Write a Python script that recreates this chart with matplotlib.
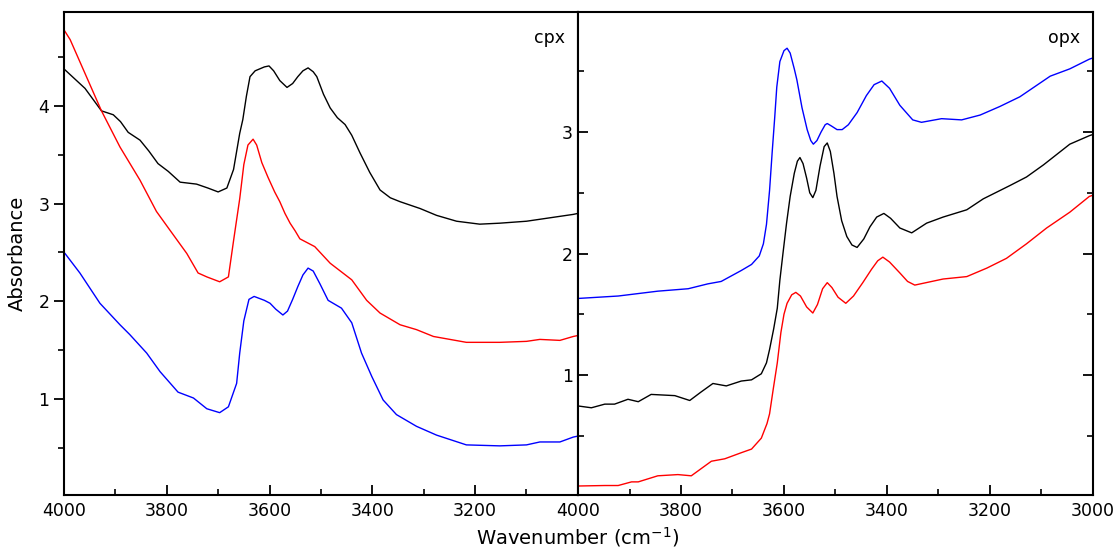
import matplotlib
matplotlib.use('Agg')
import matplotlib.pyplot as plt
from matplotlib.ticker import MultipleLocator

# cpx spectra (left panel)
cpx_black_w = [4000, 3998, 3959, 3927, 3904, 3890, 3875, 3852, 3835, 3817, 3797, 3774, 3742,
               3720, 3700, 3683, 3670, 3658, 3652, 3645, 3638, 3628, 3619, 3610, 3601, 3592,
               3580, 3566, 3555, 3545, 3535, 3525, 3515, 3508, 3495, 3482, 3468, 3453, 3440,
               3424, 3405, 3385, 3365, 3346, 3307, 3275, 3236, 3191, 3152, 3100, 3061, 3009, 3000]
cpx_black_a = [4.38, 4.37, 4.18, 3.95, 3.91, 3.84, 3.73, 3.65, 3.54, 3.41, 3.33, 3.22, 3.20,
               3.16, 3.12, 3.16, 3.35, 3.72, 3.86, 4.10, 4.30, 4.36, 4.38, 4.40, 4.41, 4.36,
               4.26, 4.19, 4.23, 4.30, 4.36, 4.39, 4.35, 4.30, 4.12, 3.98, 3.88, 3.81, 3.70,
               3.52, 3.32, 3.14, 3.06, 3.02, 2.95, 2.88, 2.82, 2.79, 2.80, 2.82, 2.85, 2.89, 2.90]
cpx_red_w = [4000, 3988, 3927, 3891, 3852, 3820, 3794, 3761, 3739, 3722, 3697, 3680, 3670,
             3665, 3658, 3650, 3642, 3632, 3625, 3615, 3603, 3590, 3580, 3570, 3560, 3550,
             3541, 3512, 3482, 3440, 3411, 3385, 3346, 3314, 3281, 3217, 3152, 3100, 3074,
             3035, 3009, 3000]
cpx_red_a = [4.78, 4.68, 3.95, 3.58, 3.24, 2.92, 2.73, 2.49, 2.29, 2.25, 2.20, 2.25, 2.62,
             2.80, 3.05, 3.40, 3.60, 3.66, 3.60, 3.42, 3.27, 3.12, 3.02, 2.90, 2.80, 2.72,
             2.64, 2.56, 2.39, 2.22, 2.01, 1.88, 1.76, 1.71, 1.64, 1.58, 1.58, 1.59, 1.61,
             1.60, 1.64, 1.65]
cpx_blue_w = [4000, 3998, 3969, 3930, 3891, 3872, 3839, 3813, 3778, 3748, 3722, 3697, 3680,
              3664, 3658, 3650, 3640, 3630, 3620, 3610, 3599, 3588, 3574, 3565, 3555, 3545,
              3535, 3525, 3515, 3502, 3486, 3460, 3440, 3421, 3401, 3379, 3353, 3314, 3275,
              3217, 3152, 3100, 3074, 3035, 3009, 3000]
cpx_blue_a = [2.50, 2.49, 2.29, 1.98, 1.76, 1.66, 1.47, 1.28, 1.07, 1.01, 0.90, 0.86, 0.92,
              1.16, 1.47, 1.80, 2.02, 2.05, 2.03, 2.01, 1.98, 1.92, 1.86, 1.90, 2.02, 2.15,
              2.27, 2.34, 2.31, 2.18, 2.01, 1.93, 1.78, 1.47, 1.23, 0.99, 0.84, 0.72, 0.63,
              0.53, 0.52, 0.53, 0.56, 0.56, 0.61, 0.62]

# opx spectra (right panel)
opx_blue_w = [4000, 3922, 3845, 3786, 3748, 3722, 3683, 3663, 3648, 3640, 3634, 3628, 3623,
              3618, 3614, 3608, 3600, 3594, 3588, 3580, 3575, 3565, 3555, 3548, 3543, 3536,
              3528, 3520, 3516, 3508, 3497, 3487, 3475, 3458, 3440, 3425, 3410, 3395, 3375,
              3350, 3333, 3294, 3255, 3219, 3181, 3142, 3083, 3045, 3007, 3000]
opx_blue_a = [1.63, 1.65, 1.69, 1.71, 1.75, 1.77, 1.86, 1.91, 1.98, 2.08, 2.24, 2.52, 2.83,
              3.12, 3.37, 3.58, 3.67, 3.69, 3.65, 3.52, 3.43, 3.20, 3.02, 2.93, 2.90, 2.93,
              3.00, 3.06, 3.07, 3.05, 3.02, 3.02, 3.06, 3.16, 3.30, 3.39, 3.42, 3.36, 3.22,
              3.10, 3.08, 3.11, 3.10, 3.14, 3.21, 3.29, 3.46, 3.52, 3.60, 3.61]
opx_black_w = [4000, 3974, 3948, 3929, 3903, 3883, 3858, 3812, 3783, 3761, 3738, 3712, 3683,
               3663, 3644, 3634, 3628, 3620, 3613, 3608, 3602, 3595, 3588, 3580, 3574, 3569,
               3563, 3556, 3550, 3544, 3538, 3530, 3522, 3516, 3510, 3503, 3497, 3488, 3478,
               3468, 3458, 3445, 3433, 3420, 3406, 3393, 3375, 3352, 3323, 3291, 3245, 3213,
               3161, 3129, 3096, 3045, 3007, 3000]
opx_black_a = [0.745, 0.73, 0.76, 0.76, 0.80, 0.78, 0.84, 0.83, 0.79, 0.86, 0.93, 0.91, 0.95,
               0.96, 1.01, 1.10, 1.21, 1.38, 1.55, 1.78, 2.00, 2.25, 2.47, 2.66, 2.76, 2.79,
               2.74, 2.62, 2.50, 2.46, 2.52, 2.72, 2.88, 2.91, 2.84, 2.66, 2.47, 2.27, 2.14,
               2.07, 2.05, 2.12, 2.22, 2.30, 2.33, 2.29, 2.21, 2.17, 2.25, 2.30, 2.36, 2.45,
               2.56, 2.63, 2.73, 2.90, 2.97, 2.98]
opx_red_w = [4000, 3948, 3922, 3896, 3883, 3845, 3806, 3780, 3741, 3715, 3683, 3663, 3644,
             3633, 3628, 3621, 3613, 3606, 3600, 3594, 3585, 3577, 3568, 3556, 3544, 3535,
             3525, 3516, 3507, 3495, 3480, 3465, 3447, 3430, 3418, 3408, 3395, 3375, 3360,
             3346, 3291, 3245, 3206, 3168, 3129, 3090, 3045, 3007, 3000]
opx_red_a = [0.086, 0.09, 0.09, 0.12, 0.12, 0.17, 0.18, 0.17, 0.29, 0.31, 0.36, 0.39, 0.48,
             0.60, 0.68, 0.88, 1.10, 1.35, 1.50, 1.59, 1.66, 1.68, 1.65, 1.56, 1.51, 1.58,
             1.71, 1.76, 1.72, 1.64, 1.59, 1.65, 1.76, 1.87, 1.94, 1.97, 1.93, 1.84, 1.77,
             1.74, 1.79, 1.81, 1.88, 1.96, 2.08, 2.21, 2.34, 2.47, 2.48]

plt.rcParams['font.family'] = 'DejaVu Sans'

fig = plt.figure(figsize=(11.18, 5.59), dpi=100)
ax1 = fig.add_axes([0.0572, 0.1145, 0.4597, 0.864])
ax2 = fig.add_axes([0.5170, 0.1145, 0.4606, 0.864])

lw = 1.0
ax1.plot(cpx_black_w, cpx_black_a, color='k', lw=lw)
ax1.plot(cpx_red_w, cpx_red_a, color='r', lw=lw)
ax1.plot(cpx_blue_w, cpx_blue_a, color='b', lw=lw)

ax2.plot(opx_blue_w, opx_blue_a, color='b', lw=lw)
ax2.plot(opx_black_w, opx_black_a, color='k', lw=lw)
ax2.plot(opx_red_w, opx_red_a, color='r', lw=lw)

ax1.set_xlim(4000, 3000)
ax1.set_ylim(0.017, 4.962)
ax2.set_xlim(4000, 3000)
ax2.set_ylim(0.012, 3.988)

for ax in (ax1, ax2):
    ax.xaxis.set_major_locator(MultipleLocator(200))
    ax.xaxis.set_minor_locator(MultipleLocator(100))
    ax.yaxis.set_major_locator(MultipleLocator(1))
    ax.yaxis.set_minor_locator(MultipleLocator(0.5))
    for s in ax.spines.values():
        s.set_linewidth(1.5)
    ax.tick_params(axis='x', which='both', direction='in', top=False, labelsize=12.5, pad=5)
    ax.tick_params(axis='x', which='major', length=7, width=1.3)
    ax.tick_params(axis='x', which='minor', length=4, width=1.2)

# left panel y ticks point outward, right panel ticks point inward
ax1.tick_params(axis='y', which='both', direction='out', right=False, labelsize=12.5)
ax1.tick_params(axis='y', which='major', length=7, width=1.3)
ax1.tick_params(axis='y', which='minor', length=4, width=1.2)
ax1.set_xticks([4000, 3800, 3600, 3400, 3200])

ax2.tick_params(axis='y', which='both', direction='in', right=True, labelsize=12.5)
ax2.tick_params(axis='y', which='major', length=7, width=1.3)
ax2.tick_params(axis='y', which='minor', length=4, width=1.2)

ax1.text(0.975, 0.965, 'cpx', transform=ax1.transAxes, ha='right', va='top', fontsize=12.5)
ax2.text(0.975, 0.965, 'opx', transform=ax2.transAxes, ha='right', va='top', fontsize=12.5)

ax1.set_ylabel('Absorbance', fontsize=14, labelpad=8)
fig.text(0.517, 0.018, 'Wavenumber (cm$^{-1}$)', ha='center', va='bottom', fontsize=14)

fig.savefig('out.png', dpi=100)
